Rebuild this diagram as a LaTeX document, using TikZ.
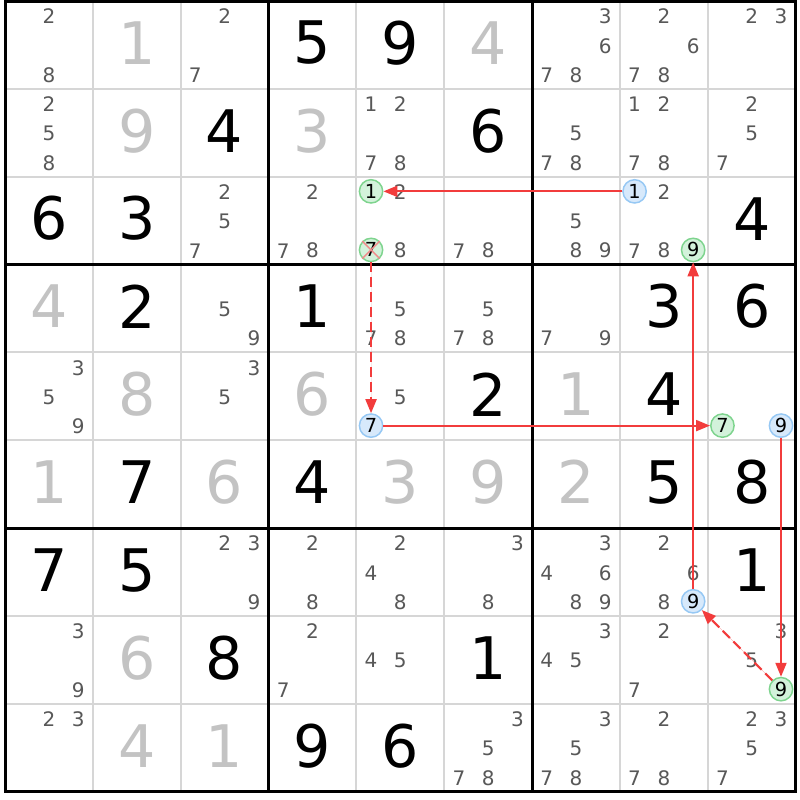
\documentclass[tikz,border=0pt]{standalone}
\usepackage{fontspec}
\setmainfont{DejaVu Sans}
\usetikzlibrary{arrows.meta}
\definecolor{thinc}{HTML}{D6D6D6}
\definecolor{candc}{HTML}{585858}
\definecolor{solvedc}{HTML}{C3C3C3}
\definecolor{gfill}{HTML}{D3F2DB}
\definecolor{gline}{HTML}{7ED48E}
\definecolor{bfill}{HTML}{D7E9FB}
\definecolor{bline}{HTML}{96C8F4}
\definecolor{linkc}{HTML}{F23C3C}
\definecolor{crossc}{HTML}{F28A8A}
\newcommand\CS{87.85}
\newcommand\SB{29.283}
\tikzset{
 given/.style={inner sep=0pt, font=\fontsize{44}{44}\selectfont, text=black},
 solved/.style={given, text=solvedc},
 cand/.style={inner sep=0pt, font=\fontsize{15}{15}\selectfont, text=candc},
 ring/.style={circle, inner sep=0pt, minimum size=17.5pt, line width=1.1pt, font=\fontsize{14.5}{14.5}\selectfont, text=black},
 gring/.style={ring, draw=gline, fill=gfill},
 bring/.style={ring, draw=bline, fill=bfill},
 link/.style={draw=linkc, fill=linkc, line width=1.5pt, -{Triangle[length=10.5pt,width=8.25pt]}},
 weak/.style={link, dash pattern=on 7.5pt off 3.75pt},
 thinline/.style={draw=thinc, line width=1.5pt},
 thickline/.style={draw=black, line width=2.25pt},
}
\newcommand\GV[3]{\node[given] (g#1#2) at ({5+(#2-0.5)*\CS},{1+(#1-0.5)*\CS-2}) {#3};}
\newcommand\SV[3]{\node[solved] (g#1#2) at ({5+(#2-0.5)*\CS},{1+(#1-0.5)*\CS-2}) {#3};}
\newcommand\CV[3]{\foreach \d in {#3}{%
  \pgfmathtruncatemacro\mysubc{mod(\d-1,3)}%
  \pgfmathtruncatemacro\mysubr{int((\d-1)/3)}%
  \node[cand] (c#1#2\d) at ({5+(#2-1)*\CS+(\mysubc+0.5)*\SB},{1+(#1-1)*\CS+(\mysubr+0.5)*\SB+0.8}) {\d};}}
\newcommand\RV[4]{%
  \pgfmathtruncatemacro\mysubc{mod(#4-1,3)}%
  \pgfmathtruncatemacro\mysubr{int((#4-1)/3)}%
  \node[#1] (c#2#3#4) at ({5+(#3-1)*\CS+(\mysubc+0.5)*\SB},{1+(#2-1)*\CS+(\mysubr+0.5)*\SB}) {#4};}
\begin{document}
\begin{tikzpicture}[x=0.75pt,y=-0.75pt]
\useasboundingbox (0,0) rectangle (800,800);
\fill[white] (0,0) rectangle (800,800);
% thin lines
\foreach \i in {1,2,4,5,7,8}{
  \draw[thinline] ({5+\i*\CS},1) -- ({5+\i*\CS},{1+9*\CS});
  \draw[thinline] (5,{1+\i*\CS}) -- ({5+9*\CS},{1+\i*\CS});
}
\foreach \i in {3,6}{
  \draw[thickline] ({5+\i*\CS},1) -- ({5+\i*\CS},{1+9*\CS});
  \draw[thickline] (5,{1+\i*\CS}) -- ({5+9*\CS},{1+\i*\CS});
}
\draw[thickline] (5,1) rectangle ({5+9*\CS},{1+9*\CS});
% row 1
\CV{1}{1}{2,8} \SV{1}{2}{1} \CV{1}{3}{2,7} \GV{1}{4}{5} \GV{1}{5}{9} \SV{1}{6}{4}
\CV{1}{7}{3,6,7,8} \CV{1}{8}{2,6,7,8} \CV{1}{9}{2,3}
% row 2
\CV{2}{1}{2,5,8} \SV{2}{2}{9} \GV{2}{3}{4} \SV{2}{4}{3} \CV{2}{5}{1,2,7,8} \GV{2}{6}{6}
\CV{2}{7}{5,7,8} \CV{2}{8}{1,2,7,8} \CV{2}{9}{2,5,7}
% row 3
\GV{3}{1}{6} \GV{3}{2}{3} \CV{3}{3}{2,5,7} \CV{3}{4}{2,7,8} \CV{3}{5}{2,8}
\RV{gring}{3}{5}{1} \RV{gring}{3}{5}{7}
\CV{3}{6}{7,8} \CV{3}{7}{5,8,9} \CV{3}{8}{2,7,8}
\RV{bring}{3}{8}{1} \RV{gring}{3}{8}{9}
\GV{3}{9}{4}
% row 4
\SV{4}{1}{4} \GV{4}{2}{2} \CV{4}{3}{5,9} \GV{4}{4}{1} \CV{4}{5}{5,7,8} \CV{4}{6}{5,7,8}
\CV{4}{7}{7,9} \GV{4}{8}{3} \GV{4}{9}{6}
% row 5
\CV{5}{1}{3,5,9} \SV{5}{2}{8} \CV{5}{3}{3,5} \SV{5}{4}{6} \CV{5}{5}{5} \RV{bring}{5}{5}{7}
\GV{5}{6}{2} \SV{5}{7}{1} \GV{5}{8}{4} \RV{gring}{5}{9}{7} \RV{bring}{5}{9}{9}
% row 6
\SV{6}{1}{1} \GV{6}{2}{7} \SV{6}{3}{6} \GV{6}{4}{4} \SV{6}{5}{3} \SV{6}{6}{9}
\SV{6}{7}{2} \GV{6}{8}{5} \GV{6}{9}{8}
% row 7
\GV{7}{1}{7} \GV{7}{2}{5} \CV{7}{3}{2,3,9} \CV{7}{4}{2,8} \CV{7}{5}{2,4,8} \CV{7}{6}{3,8}
\CV{7}{7}{3,4,6,8,9} \CV{7}{8}{2,6,8} \RV{bring}{7}{8}{9} \GV{7}{9}{1}
% row 8
\CV{8}{1}{3,9} \SV{8}{2}{6} \GV{8}{3}{8} \CV{8}{4}{2,7} \CV{8}{5}{4,5} \GV{8}{6}{1}
\CV{8}{7}{3,4,5} \CV{8}{8}{2,7} \CV{8}{9}{3,5} \RV{gring}{8}{9}{9}
% row 9
\CV{9}{1}{2,3} \SV{9}{2}{4} \SV{9}{3}{1} \GV{9}{4}{9} \GV{9}{5}{6} \CV{9}{6}{3,5,7,8}
\CV{9}{7}{3,5,7,8} \CV{9}{8}{2,7,8} \CV{9}{9}{2,3,5,7}
% elimination mark
\draw[crossc, line width=1.1pt] (c357.north west) -- (c357.south east)
  (c357.north east) -- (c357.south west);
% chain
\draw[link] (c381) -- (c351);
\draw[weak] (c357) -- (c557);
\draw[link] (c557) -- (c597);
\draw[link] (c599) -- (c899);
\draw[weak] (c899) -- (c789);
\draw[link] (c789) -- (c389);
\end{tikzpicture}
\end{document}
